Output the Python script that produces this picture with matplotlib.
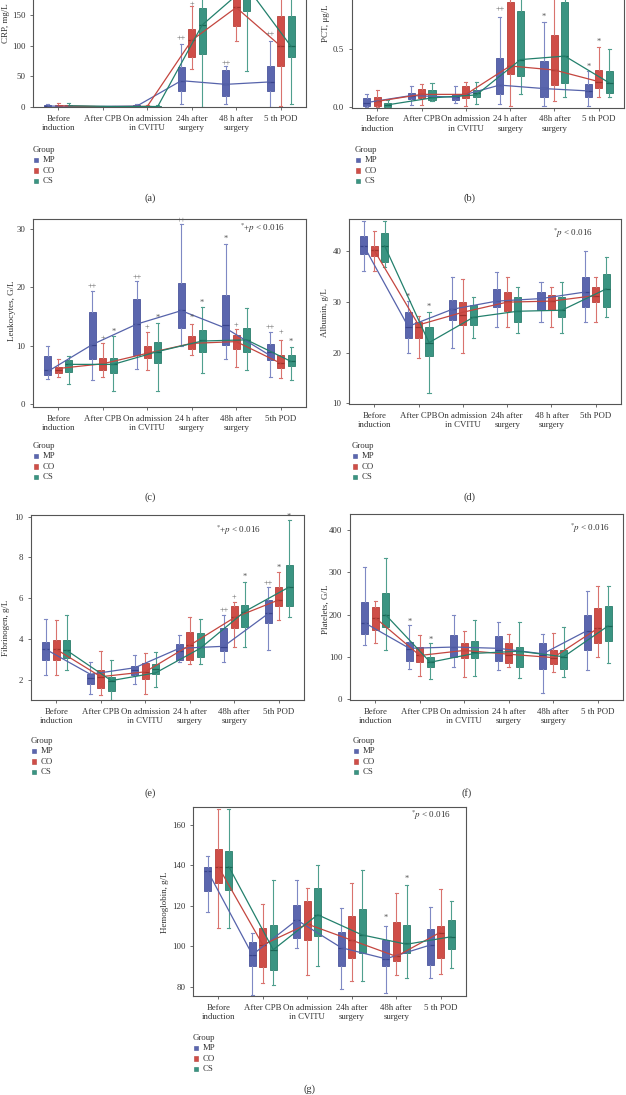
import matplotlib
matplotlib.use("Agg")
import matplotlib.pyplot as plt
from matplotlib.patches import Rectangle

plt.rcParams['font.family'] = ['Liberation Serif', 'DejaVu Serif']
plt.rcParams['mathtext.fontset'] = 'stix'

# ---------------- data ----------------
GROUPS = ["MP", "CO", "CS"]
TIMES = ["Before induction", "After CPB", "On admission in CVITU",
         "24h after surgery", "48h after surgery", "5th POD"]

# each entry: (whisker low, Q1, median, Q3, whisker high) for the 6 time points
CRP_MP = [(0, 0.5, 1.5, 3, 5), (0, 0.3, 0.8, 1.2, 2), (0, 0.5, 1.5, 3, 5),
          (5.4, 26.6, 43, 65.8, 103), (5.4, 18, 37, 60.4, 67), (0, 26.6, 41.3, 67, 108)]
CRP_CO = [(0, 0.8, 2, 3.5, 6), (0, 0.3, 0.6, 1, 2), (0, 0.5, 1, 2, 3),
          (61.5, 82, 109, 127, 165), (108, 132, 162.6, 200, 250), (2, 67, 99.5, 148.5, 230)]
CRP_CS = [(0, 0.8, 2, 3.5, 6), (0, 0.3, 0.8, 1.3, 2), (0, 0.4, 0.8, 1.6, 2.5),
          (0, 86.5, 134, 161, 230), (58.7, 157, 195, 240, 300), (5.5, 81.5, 99, 148.5, 240)]
CRP_MEAN_MP = [1.5, 0.8, 1.5, 43, 37, 41]
CRP_MEAN_CO = [2, 0.6, 1.0, 109, 162.6, 99.5]
CRP_MEAN_CS = [2, 0.8, 0.8, 134, 197, 99]

PCT_MP = [(0.0, 0.012, 0.035, 0.075, 0.115), (0.02, 0.07, 0.1, 0.12, 0.18), (0.035, 0.06, 0.085, 0.11, 0.185),
          (0.03, 0.115, 0.19, 0.42, 0.78), (0.01, 0.085, 0.165, 0.40, 0.73), (0.01, 0.085, 0.14, 0.20, 0.31)]
PCT_CO = [(0.005, 0.01, 0.05, 0.086, 0.15), (0.02, 0.08, 0.11, 0.155, 0.2), (0.01, 0.08, 0.11, 0.18, 0.22),
          (0.01, 0.29, 0.355, 0.91, 1.2), (0.05, 0.19, 0.32, 0.62, 1.1), (0.09, 0.165, 0.22, 0.32, 0.52)]
PCT_CS = [(0.005, 0.005, 0.02, 0.04, 0.06), (0.05, 0.065, 0.09, 0.145, 0.21), (0.03, 0.09, 0.12, 0.15, 0.22),
          (0.11, 0.265, 0.41, 0.825, 1.1), (0.09, 0.21, 0.44, 0.91, 1.2), (0.09, 0.12, 0.21, 0.31, 0.5)]
PCT_MEAN_MP = [0.04, 0.1, 0.086, 0.19, 0.16, 0.14]
PCT_MEAN_CO = [0.05, 0.11, 0.11, 0.355, 0.32, 0.22]
PCT_MEAN_CS = [0.02, 0.08, 0.105, 0.41, 0.44, 0.21]

LEU_MP = [(4.3, 4.9, 5.8, 8.3, 9.9), (4.1, 7.8, 10.2, 15.7, 19.4), (6.0, 8.4, 13.7, 18.0, 21.1),
          (10.0, 13.1, 16.1, 20.8, 30.8), (7.8, 10.1, 13.5, 18.6, 27.5), (4.6, 7.5, 8.9, 10.3, 12.4)]
LEU_CO = [(4.7, 5.4, 5.9, 6.4, 7.7), (4.6, 5.8, 6.9, 7.9, 10.4), (5.8, 7.9, 8.7, 10.0, 12.4),
          (8.4, 9.4, 10.4, 11.7, 13.8), (6.4, 9.4, 11.0, 11.8, 12.9), (4.4, 6.1, 7.0, 8.4, 11.0)]
LEU_CS = [(3.5, 5.5, 6.8, 7.5, 8.3), (2.3, 5.4, 6.8, 7.9, 11.7), (2.3, 7.1, 9.0, 10.6, 13.9),
          (5.3, 9.0, 10.9, 12.7, 16.7), (5.8, 9.0, 11.0, 13.1, 16.4), (4.1, 6.5, 7.4, 8.4, 9.7)]
LEU_MEAN_MP = [5.6, 10.2, 13.7, 16.0, 13.0, 8.3]
LEU_MEAN_CO = [6.1, 6.9, 8.7, 10.4, 10.7, 7.0]
LEU_MEAN_CS = [6.8, 6.8, 9.0, 10.8, 11.0, 7.3]

ALB_MP = [(36.1, 39.5, 41.1, 43.1, 46.1), (20, 22.9, 25.1, 28, 30.2), (21, 26.5, 28.6, 30.5, 35),
          (25, 29, 30.2, 32.6, 36), (26, 28.5, 30.2, 32, 34), (26, 29, 32, 35, 40)]
ALB_CO = [(36.1, 39.1, 40.2, 41.1, 44.1), (19, 23, 25, 26, 27.2), (20, 25.4, 27.5, 30, 34.5),
          (25, 28.2, 30.2, 32, 35), (25, 28.5, 30.2, 31.5, 33), (26, 30, 31.3, 33, 35)]
ALB_CS = [(37, 38, 41.1, 43.6, 46.1), (12, 19.3, 22, 25.1, 28), (23, 25.5, 27, 29.5, 31),
          (24, 26, 28.2, 31, 33), (24, 27, 28.5, 31, 34), (27, 29, 32.6, 35.5, 39)]
ALB_MEAN_MP = [41.1, 25.2, 28.6, 30.2, 30.7, 32]
ALB_MEAN_CO = [40.2, 25.5, 28, 30, 30.2, 31.3]
ALB_MEAN_CS = [41.1, 22, 27, 28.2, 28.4, 32.6]

FIB_MP = [(2.25, 3.0, 3.5, 3.85, 5.0), (1.31, 1.79, 2.08, 2.28, 2.9), (1.8, 2.25, 2.49, 2.69, 3.22),
          (2.9, 3.0, 3.44, 3.76, 4.2), (2.9, 3.42, 3.63, 4.53, 5.18), (3.47, 4.78, 5.27, 5.92, 6.57)]
FIB_CO = [(2.25, 3.0, 3.5, 3.96, 4.94), (1.27, 1.6, 2.16, 2.5, 3.44), (1.31, 2.03, 2.38, 2.82, 3.3),
          (2.78, 3.0, 3.7, 4.37, 5.1), (3.63, 4.53, 5.1, 5.6, 5.84), (4.94, 5.64, 5.92, 6.57, 7.3)]
FIB_CS = [(2.5, 3.1, 3.47, 3.96, 5.2), (1.0, 1.48, 1.97, 2.16, 2.98), (1.64, 2.28, 2.52, 2.78, 3.39),
          (2.8, 3.15, 3.6, 4.29, 5.0), (3.6, 4.6, 5.35, 5.67, 6.82), (5.1, 5.6, 6.57, 7.63, 9.84)]
FIB_MEAN_MP = [3.5, 2.28, 2.6, 3.55, 3.65, 5.25]
FIB_MEAN_CO = [3.5, 2.16, 2.4, 3.7, 5.05, 5.92]
FIB_MEAN_CS = [3.45, 1.97, 2.35, 3.55, 5.35, 6.55]

PLT_MP = [(129, 155, 180, 229, 313), (72, 90, 118, 135, 175), (75, 100, 122, 152, 198),
          (68, 90, 115, 148, 182), (13, 70, 105, 133, 155), (69, 115, 162, 198, 255)]
PLT_CO = [(133, 163, 192, 218, 232), (55, 88, 103, 122, 151), (52, 97, 115, 133, 162),
          (75, 85, 105, 132, 153), (63, 83, 98, 115, 156), (100, 133, 167, 216, 268)]
PLT_CS = [(117, 170, 199, 252, 335), (48, 76, 87, 100, 132), (55, 97, 112, 138, 188),
          (50, 76, 113, 124, 183), (51, 72, 100, 117, 170), (85, 138, 173, 220, 268)]
PLT_MEAN_MP = [180, 120, 123, 120, 107, 162]
PLT_MEAN_CO = [192, 103, 115, 106, 98, 167]
PLT_MEAN_CS = [199, 87, 108, 113, 100, 173]

HB_MP = [(116.9, 127.4, 137, 139.4, 144.7), (76, 90, 95.8, 101.9, 106.8), (99, 104, 113, 120.3, 132.8),
         (79, 90, 99.3, 107, 118.8), (77, 90, 93.8, 103.2, 110), (84.5, 90.8, 100.6, 108.4, 119.6)]
HB_CO = [(109, 131.2, 139.4, 148, 167.7), (81.8, 89.5, 100.7, 109, 120.8), (86, 102.9, 111, 122.5, 128.7),
         (83, 94.2, 103, 115.1, 131.5), (85.7, 92.8, 95, 112, 126.5), (86.5, 94.2, 106.6, 110, 128.5)]
HB_CS = [(109, 127.9, 139.4, 147.3, 167.7), (81, 88.4, 98.3, 110.5, 132.8), (90, 104.9, 115.6, 128.7, 140),
         (83, 96.7, 105.6, 118.6, 137.6), (84.5, 96.7, 101.5, 110.4, 130.5), (89.4, 98.5, 104.5, 112.8, 122.6)]
HB_MEAN_MP = [137, 95.8, 113, 99.3, 93.8, 100.6]
HB_MEAN_CO = [139.4, 100.7, 111, 103, 95, 107]
HB_MEAN_CS = [139.4, 98.3, 115.6, 105.6, 101, 104.7]

# significance marks: (time index, group index, y value, text)
CRP_MARKS = [(3, 0, 112.5, "++"), (3, 1, 168, "+"), (4, 0, 72, "++"), (5, 0, 118, "++")]
PCT_MARKS = [(3, 0, 0.84, "++"), (4, 0, 0.775, "*"), (5, 0, 0.35, "*"), (5, 1, 0.56, "*")]
LEU_MARKS = [(1, 0, 20.2, "++"), (1, 1, 11.3, "+"), (1, 2, 12.3, "*"), (2, 0, 21.8, "++"),
             (2, 1, 13.2, "+"), (2, 2, 14.8, "*"), (3, 0, 31.4, "++"), (3, 1, 14.7, "*"),
             (3, 2, 17.3, "*"), (4, 0, 28.3, "*"), (4, 1, 13.5, "+"), (5, 0, 13.1, "++"),
             (5, 1, 12.3, "+"), (5, 2, 10.7, "*")]
ALB_MARKS = [(1, 0, 31.1, "*"), (1, 2, 29.0, "*")]
FIB_MARKS = [(4, 0, 5.4, "++"), (4, 1, 6.05, "+"), (4, 2, 7.03, "*"), (5, 0, 6.75, "++"),
             (5, 1, 7.5, "*"), (5, 2, 10.0, "*")]
PLT_MARKS = [(1, 0, 183, "*"), (1, 2, 140, "*")]
HB_MARKS = [(4, 0, 114, "*"), (4, 2, 133.5, "*")]

# ---------------- style ----------------
W, H = 626, 1095
BOX_COLORS = ["#5b66ae", "#cf4e48", "#3a9482"]
EDGE_COLORS = ["#4a559c", "#b84039", "#2a7d6b"]
WHISKER_COLORS = ["#7f89c4", "#d9736e", "#4f9f8e"]
LINE_COLORS = ["#5663ab", "#c4463f", "#23806c"]
MEDIAN_COLORS = ["#39448c", "#9e332d", "#1b6656"]
OFFSETS = [-0.235, 0.0, 0.235]
SPINE = "#555555"
TXT = "#333333"

fig = plt.figure(figsize=(W / 100, H / 100), dpi=100)
fig.patch.set_facecolor("white")


def fx(x):
    return x / W


def fy(y):
    return 1 - y / H


def base_labels(t24, t48, t5):
    return ["Before\ninduction", "After CPB", "On admission\nin CVITU",
            t24 + "\nsurgery", t48 + "\nsurgery", t5]


def draw_panel(box, stats, means, ylim, yticks, yticklabels, xlabels, ylabel, ylab_xy,
               marks, note, note_xy, legend_xy, plabel, plabel_xy):
    l, t, r, b = box
    ax = fig.add_axes([fx(l), fy(b), (r - l) / W, (b - t) / H])
    for g in range(3):
        pos = [i + OFFSETS[g] for i in range(len(TIMES))]
        bst = [dict(whislo=s[0], q1=s[1], med=s[2], q3=s[3], whishi=s[4]) for s in stats[g]]
        ax.bxp(bst, positions=pos, widths=0.16, patch_artist=True, showfliers=False,
               manage_ticks=False,
               boxprops=dict(facecolor=BOX_COLORS[g], edgecolor=EDGE_COLORS[g], linewidth=0.6),
               medianprops=dict(color=MEDIAN_COLORS[g], linewidth=0.9),
               whiskerprops=dict(color=WHISKER_COLORS[g], linewidth=0.8),
               capprops=dict(color=WHISKER_COLORS[g], linewidth=0.8), capwidths=0.07)
    for g in range(3):
        pos = [i + OFFSETS[g] for i in range(len(TIMES))]
        ax.plot(pos, means[g], color=LINE_COLORS[g], lw=0.9, zorder=5)
    for (ti, gi, yv, s) in marks:
        ax.text(ti + OFFSETS[gi], yv, s, ha="center", va="center", fontsize=6, color="#555555",
                zorder=6)
    ax.set_xlim(-0.57, 5.57)
    ax.set_ylim(*ylim)
    ax.set_xticks(range(len(TIMES)))
    ax.set_xticklabels(xlabels)
    ax.set_yticks(yticks)
    ax.set_yticklabels(yticklabels)
    ax.tick_params(axis="both", direction="out", length=2.5, width=0.6, color=SPINE,
                   labelsize=6.3, labelcolor=TXT, pad=3)
    for lab in ax.get_xticklabels():
        lab.set_linespacing(1.25)
    for sp in ax.spines.values():
        sp.set_color(SPINE)
        sp.set_linewidth(0.8)
    fig.text(fx(ylab_xy[0]), fy(ylab_xy[1]), ylabel, rotation=90, ha="center", va="center",
             fontsize=6.5, color=TXT)
    if note:
        fig.text(fx(note_xy[0]), fy(note_xy[1]), note, ha="left", va="center", fontsize=6.5,
                 color=TXT)
    # legend
    lx, ly = legend_xy
    fig.text(fx(lx), fy(ly), "Group", ha="left", va="center", fontsize=6.3, color=TXT)
    for k, name in enumerate(GROUPS):
        yy = ly + 10.3 * (k + 1)
        fig.add_artist(Rectangle((fx(lx + 1), fy(yy + 2)), 4.2 / W, 4.2 / H,
                                 transform=fig.transFigure, facecolor=BOX_COLORS[k],
                                 edgecolor=EDGE_COLORS[k], linewidth=0.4))
        fig.text(fx(lx + 10), fy(yy), name, ha="left", va="center", fontsize=6.3, color=TXT)
    fig.text(fx(plabel_xy[0]), fy(plabel_xy[1]), plabel, ha="center", va="center",
             fontsize=7.5, color=TXT)
    return ax


NOTE_PLUS = r"$^{*}$+$p$ < 0.016"
NOTE = r"$^{*}p$ < 0.016"

# (a) CRP
draw_panel((33, -52.1, 306, 107.3), [CRP_MP, CRP_CO, CRP_CS],
           [CRP_MEAN_MP, CRP_MEAN_CO, CRP_MEAN_CS], (-0.5, 260), [0, 50, 100, 150],
           ["0", "50", "100", "150"], base_labels("24h after", "48 h after", "5 th POD"),
           "CRP, mg/L", (6, 23), CRP_MARKS, None, None, (33, 150), "(a)", (150, 198))

# (b) PCT
draw_panel((352, -43.7, 624, 107.5), [PCT_MP, PCT_CO, PCT_CS],
           [PCT_MEAN_MP, PCT_MEAN_CO, PCT_MEAN_CS], (-0.003, 1.3), [0.0, 0.5],
           ["0.0", "0.5"], base_labels("24 h after", "48h after", "5 th POD"),
           "PCT, μg/L", (326, 23), PCT_MARKS, None, None, (355, 150), "(b)", (470, 198))

# (c) Leukocytes
draw_panel((33, 219, 306, 407), [LEU_MP, LEU_CO, LEU_CS],
           [LEU_MEAN_MP, LEU_MEAN_CO, LEU_MEAN_CS], (-0.5, 31.7), [0, 10, 20, 30],
           ["0", "10", "20", "30"], base_labels("24 h after", "48h after", "5th POD"),
           "Leukocytes, G/L", (12, 311), LEU_MARKS, NOTE_PLUS, (240, 228), (33, 446),
           "(c)", (150, 497))

# (d) Albumin
draw_panel((349, 219, 621, 404), [ALB_MP, ALB_CO, ALB_CS],
           [ALB_MEAN_MP, ALB_MEAN_CO, ALB_MEAN_CS], (9.9, 46.4), [10, 20, 30, 40],
           ["10", "20", "30", "40"], base_labels("24h after", "48 h after", "5th POD"),
           "Albumin, g/L", (325, 313), ALB_MARKS, NOTE, (553, 233), (352, 446),
           "(d)", (470, 497))

# (e) Fibrinogen
draw_panel((31, 515, 304, 700), [FIB_MP, FIB_CO, FIB_CS],
           [FIB_MEAN_MP, FIB_MEAN_CO, FIB_MEAN_CS], (1.02, 10.08), [2, 4, 6, 8, 10],
           ["2", "4", "6", "8", "10"], base_labels("24 h after", "48h after", "5th POD"),
           "Fibrinogen, g/L", (6, 628), FIB_MARKS, NOTE_PLUS, (216, 530), (31, 741),
           "(e)", (150, 793))

# (f) Platelets
draw_panel((350, 514, 623, 700), [PLT_MP, PLT_CO, PLT_CS],
           [PLT_MEAN_MP, PLT_MEAN_CO, PLT_MEAN_CS], (-2.4, 438), [0, 100, 200, 300, 400],
           ["0", "100", "200", "300", "400"], base_labels("24 h after", "48h after", "5 th POD"),
           "Platelets, G/L", (326, 609), PLT_MARKS, NOTE, (570, 528), (353, 741),
           "(f)", (467, 793))

# (g) Hemoglobin
draw_panel((193, 807, 466, 996), [HB_MP, HB_CO, HB_CS],
           [HB_MEAN_MP, HB_MEAN_CO, HB_MEAN_CS], (75.4, 168.9), [80, 100, 120, 140, 160],
           ["80", "100", "120", "140", "160"], base_labels("24h after", "48h after", "5 th POD"),
           "Hemoglobin, g/L", (165, 902), HB_MARKS, NOTE, (411, 815), (193, 1038),
           "(g)", (310, 1089))

fig.savefig("out.png", dpi=100, facecolor="white")
